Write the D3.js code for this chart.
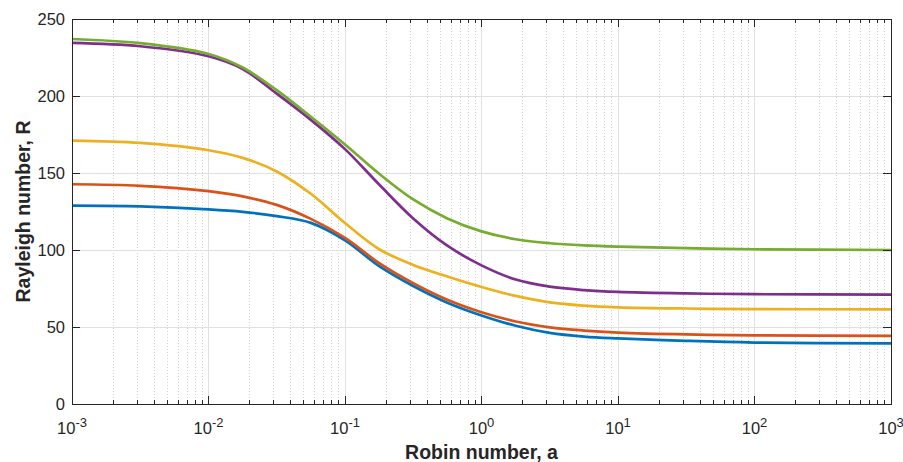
<!DOCTYPE html>
<html lang="en">
  <head>
    <meta charset="utf-8">
    <title>Rayleigh vs Robin</title>
    <script src="https://d3js.org/d3.v7.min.js"></script>
    <style>
      body { margin: 0; background: #fff; }
      svg text { font-family: "Liberation Sans", Arial, Helvetica, sans-serif; fill: #262626; }
      .label { font-weight: bold; font-size: 19.5px; }
      .tick { font-size: 16.5px; }
    </style>
  </head>
  <body>
    <div id="chart"></div>
    <script>
      // Robin number a (x) at these points
      var aValues = [0.001, 0.00316, 0.01, 0.0178, 0.0316, 0.0562, 0.1, 0.178, 0.316, 0.562,
                     1, 1.78, 3.16, 5.62, 10, 31.6, 100, 1000];

      // Rayleigh number R for each curve
      var blue   = [128.8, 128.3, 126.4, 124.8, 122.0, 117.6, 106.3, 89.5, 76.6, 65.8,
                    57.5, 50.8, 46.2, 43.8, 42.6, 41.0, 39.9, 39.4];
      var red    = [142.7, 141.7, 138.2, 134.8, 129.3, 120.2, 107.8, 91.5, 78.5, 67.7,
                    59.6, 53.6, 49.8, 47.7, 46.4, 45.2, 44.6, 44.2];
      var yellow = [171.0, 169.5, 164.8, 159.8, 151.0, 136.5, 117.5, 100.5, 90.3, 82.8,
                    76.0, 70.2, 66.0, 63.9, 62.8, 62.0, 61.6, 61.5];
      var purple = [234.5, 232.3, 225.8, 217.5, 201.5, 184.5, 165.5, 142.5, 120.5, 102.8,
                    90.0, 80.8, 76.2, 74.0, 72.8, 71.8, 71.3, 71.0];
      var green  = [237.0, 234.3, 227.3, 218.5, 203.8, 186.5, 168.5, 149.5, 132.8, 120.5,
                    112.1, 107.0, 104.4, 103.0, 102.2, 101.2, 100.5, 100.0];

      var seriesColors = ["#0072BD", "#D95319", "#EDB120", "#7E2F8E", "#77AC30"];
      var series = [blue, red, yellow, purple, green];

      var xTicks = [1e-3, 1e-2, 1e-1, 1e0, 1e1, 1e2, 1e3];
      var yTicks = [0, 50, 100, 150, 200, 250];

      var largura = 903, altura = 462;
      var margin = {top: 19, right: 12, bottom: 58, left: 72};
      var w = largura - margin.left - margin.right,
          h = altura - margin.top - margin.bottom;

      var svg = d3.select("#chart").append("svg")
                  .attr("width", largura).attr("height", altura);
      var g = svg.append("g")
                 .attr("transform", "translate(" + margin.left + "," + margin.top + ")");

      var x = d3.scaleLog().domain([1e-3, 1e3]).range([0, w]);
      var y = d3.scaleLinear().domain([0, 250]).range([h, 0]);

      // minor ticks 2..9 em cada decada
      var minor = [];
      xTicks.slice(0, -1).forEach(function(d) {
        for (var k = 2; k <= 9; k++) minor.push(d * k);
      });

      // grades
      g.selectAll("line.minor").data(minor).enter().append("line")
        .attr("x1", d => x(d)).attr("x2", d => x(d))
        .attr("y1", 0).attr("y2", h)
        .attr("stroke", "#d0d0d0").attr("stroke-width", 1)
        .attr("stroke-dasharray", "1,2")
        .attr("shape-rendering", "crispEdges");

      g.selectAll("line.gx").data(xTicks).enter().append("line")
        .attr("x1", d => x(d)).attr("x2", d => x(d))
        .attr("y1", 0).attr("y2", h)
        .attr("stroke", "#e0e0e0").attr("stroke-width", 1)
        .attr("shape-rendering", "crispEdges");

      g.selectAll("line.gy").data(yTicks).enter().append("line")
        .attr("x1", 0).attr("x2", w)
        .attr("y1", d => y(d)).attr("y2", d => y(d))
        .attr("stroke", "#e0e0e0").attr("stroke-width", 1)
        .attr("shape-rendering", "crispEdges");

      // curvas
      var line = d3.line()
        .x((d, i) => x(aValues[i]))
        .y(d => y(d))
        .curve(d3.curveCatmullRom.alpha(0.5));

      g.selectAll("path.curve").data(series).enter().append("path")
        .attr("d", d => line(d))
        .attr("fill", "none")
        .attr("stroke", (d, i) => seriesColors[i])
        .attr("stroke-width", 2.7)
        .attr("stroke-linejoin", "round");

      // eixos (box com ticks para dentro)
      var tickLen = 8, minorLen = 4;
      var axisColor = "#262626";

      g.append("rect")
        .attr("x", 0).attr("y", 0).attr("width", w).attr("height", h)
        .attr("fill", "none").attr("stroke", axisColor).attr("stroke-width", 1)
        .attr("shape-rendering", "crispEdges");

      [0, h].forEach(function(yy) {
        var dir = yy === 0 ? 1 : -1;
        g.selectAll(null).data(xTicks).enter().append("line")
          .attr("x1", d => x(d)).attr("x2", d => x(d))
          .attr("y1", yy).attr("y2", yy + dir * tickLen)
          .attr("stroke", axisColor).attr("shape-rendering", "crispEdges");
        g.selectAll(null).data(minor).enter().append("line")
          .attr("x1", d => x(d)).attr("x2", d => x(d))
          .attr("y1", yy).attr("y2", yy + dir * minorLen)
          .attr("stroke", axisColor).attr("shape-rendering", "crispEdges");
      });

      [0, w].forEach(function(xx) {
        var dir = xx === 0 ? 1 : -1;
        g.selectAll(null).data(yTicks).enter().append("line")
          .attr("x1", xx).attr("x2", xx + dir * tickLen)
          .attr("y1", d => y(d)).attr("y2", d => y(d))
          .attr("stroke", axisColor).attr("shape-rendering", "crispEdges");
      });

      // rotulos dos ticks
      g.selectAll("text.ytick").data(yTicks).enter().append("text")
        .attr("class", "tick")
        .attr("x", -7).attr("y", d => y(d))
        .attr("dy", "0.36em")
        .attr("text-anchor", "end")
        .text(d => d);

      var xt = g.selectAll("text.xtick").data(xTicks).enter().append("text")
        .attr("class", "tick")
        .attr("x", d => x(d)).attr("y", h + 29.5)
        .attr("text-anchor", "middle");
      xt.append("tspan").text("10");
      xt.append("tspan")
        .attr("dy", -7).attr("font-size", "13px")
        .text(d => Math.round(Math.log10(d)));

      // titulos dos eixos
      g.append("text")
        .attr("class", "label")
        .attr("x", w / 2).attr("y", h + 55)
        .attr("text-anchor", "middle")
        .text("Robin number, a");

      g.append("text")
        .attr("class", "label")
        .attr("transform", "translate(" + (-42) + "," + (h / 2) + ") rotate(-90)")
        .attr("text-anchor", "middle")
        .text("Rayleigh number, R");
    </script>
  </body>
</html>
